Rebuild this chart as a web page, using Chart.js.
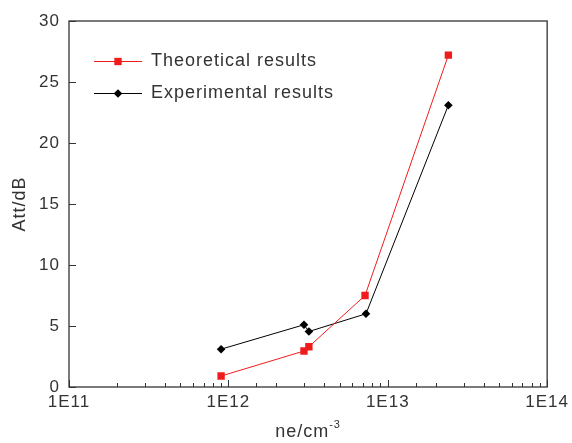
<!DOCTYPE html>
<html>
<head>
<meta charset="utf-8">
<script src="https://cdn.jsdelivr.net/npm/chart.js@4/dist/chart.umd.min.js"></script>
<style>
html,body{margin:0;padding:0;background:#fff;}
#wrap{width:572px;height:443px;position:relative;}
</style>
</head>
<body>
<div id="wrap"><canvas id="c" width="572" height="443"></canvas></div>
<script>
// Data
const densities = [9.0e11, 2.98e12, 3.2e12, 7.2e12, 2.4e13];
const densitiesExp = [9.0e11, 2.98e12, 3.2e12, 7.3e12, 2.4e13];
const theoretical = [0.9, 2.95, 3.3, 7.5, 27.2];
const experimental = [3.1, 5.1, 4.55, 6.0, 23.1];
const seriesNames = ['Theoretical results', 'Experimental results'];
const xDecades = [1e11, 1e12, 1e13, 1e14];
const yTickValues = [0, 5, 10, 15, 20, 25, 30];
const yTitle = 'Att/dB';
const xTitleBase = 'ne/cm';
const xTitleSup = '-3';

const FONT = '"Liberation Sans", Arial, sans-serif';
const TXT = '#333';
const RED = '#f01c1c';
const BLACK = '#000';

function toPoints(xs, ys){ return xs.map((x,i)=>({x:x, y:ys[i]})); }

const spacingPlugin = {
  id: 'spacing',
  beforeInit(chart){ chart.ctx.letterSpacing = '1px'; },
  beforeDraw(chart){ chart.ctx.letterSpacing = '1px'; }
};

const framePlugin = {
  id: 'frame',
  afterDraw(chart){
    const ctx = chart.ctx, a = chart.chartArea;
    const xs = chart.scales.x, ys = chart.scales.y;
    ctx.save();
    ctx.letterSpacing = '1px';
    ctx.strokeStyle = '#333';
    ctx.lineWidth = 1.3;
    ctx.strokeRect(a.left, a.top, a.right - a.left, a.bottom - a.top);
    ctx.lineWidth = 1;
    ctx.beginPath();
    // y ticks inward
    yTickValues.forEach(v=>{
      const py = Math.round(ys.getPixelForValue(v)) + 0.5;
      ctx.moveTo(a.left, py); ctx.lineTo(a.left + 7, py);
    });
    // x ticks inward (major and minor)
    xs.ticks.forEach(t=>{
      const px = Math.round(xs.getPixelForValue(t.value)) + 0.5;
      const lg = Math.log10(t.value);
      const major = Math.abs(lg - Math.round(lg)) < 1e-9;
      ctx.moveTo(px, a.bottom); ctx.lineTo(px, a.bottom - (major ? 7 : 4));
    });
    ctx.stroke();

    // legend
    const ds = chart.data.datasets;
    const rows = [61, 93];
    ds.forEach((d,i)=>{
      const y = rows[i];
      ctx.strokeStyle = d.borderColor;
      ctx.lineWidth = 1;
      ctx.beginPath(); ctx.moveTo(94, y + 0.5); ctx.lineTo(142, y + 0.5); ctx.stroke();
      ctx.fillStyle = d.backgroundColor;
      ctx.strokeStyle = d.borderColor;
      Chart.helpers.drawPoint(ctx, {pointStyle: d.pointStyle, rotation: 0, radius: d.pointRadius, borderWidth: 0}, 118, y + 0.5);
      ctx.fillStyle = TXT;
      ctx.font = '18px ' + FONT;
      ctx.textAlign = 'left';
      ctx.textBaseline = 'middle';
      ctx.fillText(d.label, 151, y);
    });

    // x title with superscript
    ctx.fillStyle = TXT;
    ctx.font = '18px ' + FONT;
    ctx.textBaseline = 'alphabetic';
    ctx.textAlign = 'left';
    const w1 = ctx.measureText(xTitleBase).width;
    ctx.font = '11px ' + FONT;
    const w2 = ctx.measureText(xTitleSup).width;
    const start = (a.left + a.right)/2 - (w1 + w2)/2;
    ctx.font = '18px ' + FONT;
    ctx.fillText(xTitleBase, start, 437);
    ctx.font = '11px ' + FONT;
    ctx.fillText(xTitleSup, start + w1, 428);
    ctx.restore();
  }
};

new Chart(document.getElementById('c'), {
  type: 'line',
  data: {
    datasets: [
      {
        label: seriesNames[0],
        data: toPoints(densities, theoretical),
        borderColor: RED, backgroundColor: RED,
        borderWidth: 1, pointStyle: 'rect', pointRadius: 5.2,
        pointBorderWidth: 0, tension: 0
      },
      {
        label: seriesNames[1],
        data: toPoints(densitiesExp, experimental),
        borderColor: BLACK, backgroundColor: BLACK,
        borderWidth: 1, pointStyle: 'rectRot', pointRadius: 4.3,
        pointBorderWidth: 0, tension: 0
      }
    ]
  },
  options: {
    responsive: false,
    animation: false,
    devicePixelRatio: 1,
    layout: { padding: { top: 21, right: 22, left: 0, bottom: 0 } },
    plugins: { legend: { display: false }, tooltip: { enabled: false } },
    scales: {
      x: {
        type: 'logarithmic',
        min: xDecades[0], max: xDecades[xDecades.length - 1],
        grid: { display: false, drawTicks: false },
        border: { display: false },
        ticks: {
          autoSkip: false, maxRotation: 0, minRotation: 0, padding: 5,
          color: TXT, font: { size: 17, family: FONT },
          callback: function(v){
            const lg = Math.log10(v);
            if (Math.abs(lg - Math.round(lg)) < 1e-9 && xDecades.includes(Math.pow(10, Math.round(lg)))) return '1E' + Math.round(lg);
            return '';
          }
        },
        afterFit(s){ s.height = 56; }
      },
      y: {
        type: 'linear', min: 0, max: 30,
        grid: { display: false, drawTicks: false },
        border: { display: false },
        ticks: {
          stepSize: 5, padding: 9, color: TXT,
          font: { size: 17, family: FONT }
        },
        title: { display: true, text: yTitle, color: TXT, font: { size: 18, family: FONT }, padding: { top: 9, bottom: 0 } },
        afterFit(s){ s.width = 69; }
      }
    }
  },
  plugins: [spacingPlugin, framePlugin]
});
</script>
</body>
</html>
